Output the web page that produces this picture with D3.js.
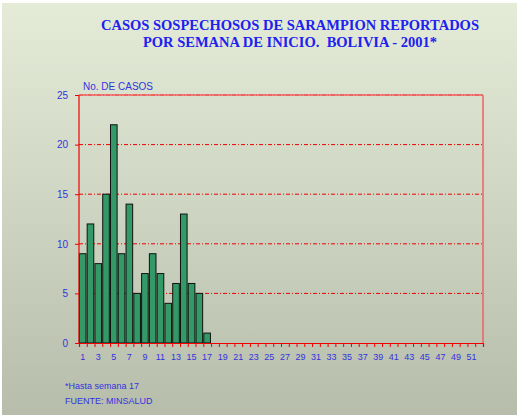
<!DOCTYPE html>
<html lang="en">
<head>
    <script src="https://d3js.org/d3.v7.min.js"></script>
    <style>
        body { margin: 0; background: white; }
        text { font-family: "Liberation Sans", Arial, sans-serif; }
    </style>
</head>
<body>
    <svg id="chart" width="522" height="415"></svg>
    <script>
        // weekly reported cases, weeks 1..17 (rest of the year is empty)
        const weeks = d3.range(1, 53);
        const cases = [9, 12, 8, 15, 22, 9, 14, 5, 7, 9, 7, 4, 6, 13, 6, 5, 1];
        const yTicks = [0, 5, 10, 15, 20, 25];
        const titleLines = ["CASOS SOSPECHOSOS DE SARAMPION REPORTADOS", "POR SEMANA DE INICIO.  BOLIVIA - 2001*"];
        const notes = ["*Hasta semana 17", "FUENTE: MINSALUD"];

        const svg = d3.select("#chart");
        const margins = { top: 95, right: 39, bottom: 72, left: 79 };
        const plotW = 522 - margins.left - margins.right;
        const plotH = 415 - margins.top - margins.bottom;

        // background panel with soft gradient
        const defs = svg.append("defs");
        const grad = defs.append("linearGradient").attr("id", "bg")
            .attr("x1", 0).attr("y1", 0).attr("x2", 0).attr("y2", 1);
        grad.append("stop").attr("offset", "0%").attr("stop-color", "#e4ecd8");
        grad.append("stop").attr("offset", "100%").attr("stop-color", "#b7bdab");

        svg.append("rect")
            .attr("x", 2).attr("y", 3)
            .attr("width", 515).attr("height", 412)
            .attr("fill", "url(#bg)");

        svg.selectAll("text.title")
            .data(titleLines)
            .join("text")
            .attr("class", "title")
            .attr("x", 290)
            .attr("y", (d, i) => 30 + i * 17)
            .attr("text-anchor", "middle")
            .style("white-space", "pre")
            .style("font-family", "'Liberation Serif', 'Times New Roman', serif")
            .style("font-weight", "bold")
            .style("font-size", "14.5px")
            .attr("fill", "#2020f0")
            .text(d => d);

        const x = d3.scaleBand().domain(weeks).range([0, plotW]).paddingInner(0.15).paddingOuter(0.05);
        const y = d3.scaleLinear().domain([0, 25]).range([plotH, 0]);

        const g = svg.append("g").attr("transform", `translate(${margins.left},${margins.top})`);

        // dash-dot red gridlines
        g.selectAll("line.grid")
            .data(yTicks.filter(d => d > 0))
            .join("line")
            .attr("class", "grid")
            .attr("x1", 0).attr("x2", plotW)
            .attr("y1", d => y(d)).attr("y2", d => y(d))
            .attr("stroke", "#ee0000")
            .attr("stroke-width", 1)
            .attr("stroke-dasharray", "4,2,1,2");

        g.selectAll("rect.bar")
            .data(cases)
            .join("rect")
            .attr("class", "bar")
            .attr("x", (d, i) => x(weeks[i]))
            .attr("width", x.bandwidth())
            .attr("y", d => y(d))
            .attr("height", d => y(0) - y(d))
            .attr("fill", "#339966")
            .attr("stroke", "#111")
            .attr("stroke-width", 1);

        // frame: left axis, top, right
        g.append("line").attr("x1", 0).attr("x2", 0).attr("y1", 0).attr("y2", plotH)
            .attr("stroke", "#ee0000").attr("stroke-width", 1.2);
        g.append("line").attr("x1", 0).attr("x2", plotW).attr("y1", 0).attr("y2", 0)
            .attr("stroke", "#f06060").attr("stroke-width", 1.5);
        g.append("line").attr("x1", plotW).attr("x2", plotW).attr("y1", 0).attr("y2", plotH)
            .attr("stroke", "#f06060").attr("stroke-width", 1.5);

        // y axis
        const yAxis = g.append("g")
            .call(d3.axisLeft(y).tickValues(yTicks).tickSize(4).tickPadding(7));
        yAxis.select(".domain").remove();
        yAxis.selectAll("line").attr("stroke", "#ee0000");
        yAxis.selectAll("text").attr("fill", "#3333dd").style("font-size", "10px");

        // x axis
        const xLin = d3.scaleLinear().domain([0.5, 52.5]).range([0, plotW]);
        const xAxis = g.append("g")
            .attr("transform", `translate(0,${plotH})`)
            .call(d3.axisBottom(xLin).tickValues(d3.range(0.5, 53, 1)).tickSize(4).tickFormat(""));
        xAxis.select(".domain").attr("stroke", "#ee0000").attr("stroke-width", 1.2);
        xAxis.selectAll("line").attr("stroke", "#ee0000");

        g.selectAll("text.xlab")
            .data(weeks.filter(d => d % 2 === 1))
            .join("text")
            .attr("class", "xlab")
            .attr("x", d => x(d) + x.bandwidth() / 2)
            .attr("y", plotH + 17)
            .attr("text-anchor", "middle")
            .attr("fill", "#3333dd")
            .style("font-size", "9px")
            .text(d => d);

        svg.append("text")
            .attr("x", 83).attr("y", 90)
            .attr("fill", "#3333dd")
            .style("font-size", "10px")
            .text("No. DE CASOS");

        svg.selectAll("text.note")
            .data(notes)
            .join("text")
            .attr("class", "note")
            .attr("x", 65)
            .attr("y", (d, i) => 389 + i * 15)
            .attr("fill", "#3333dd")
            .style("font-size", "9px")
            .text(d => d);
    </script>
</body>
</html>
